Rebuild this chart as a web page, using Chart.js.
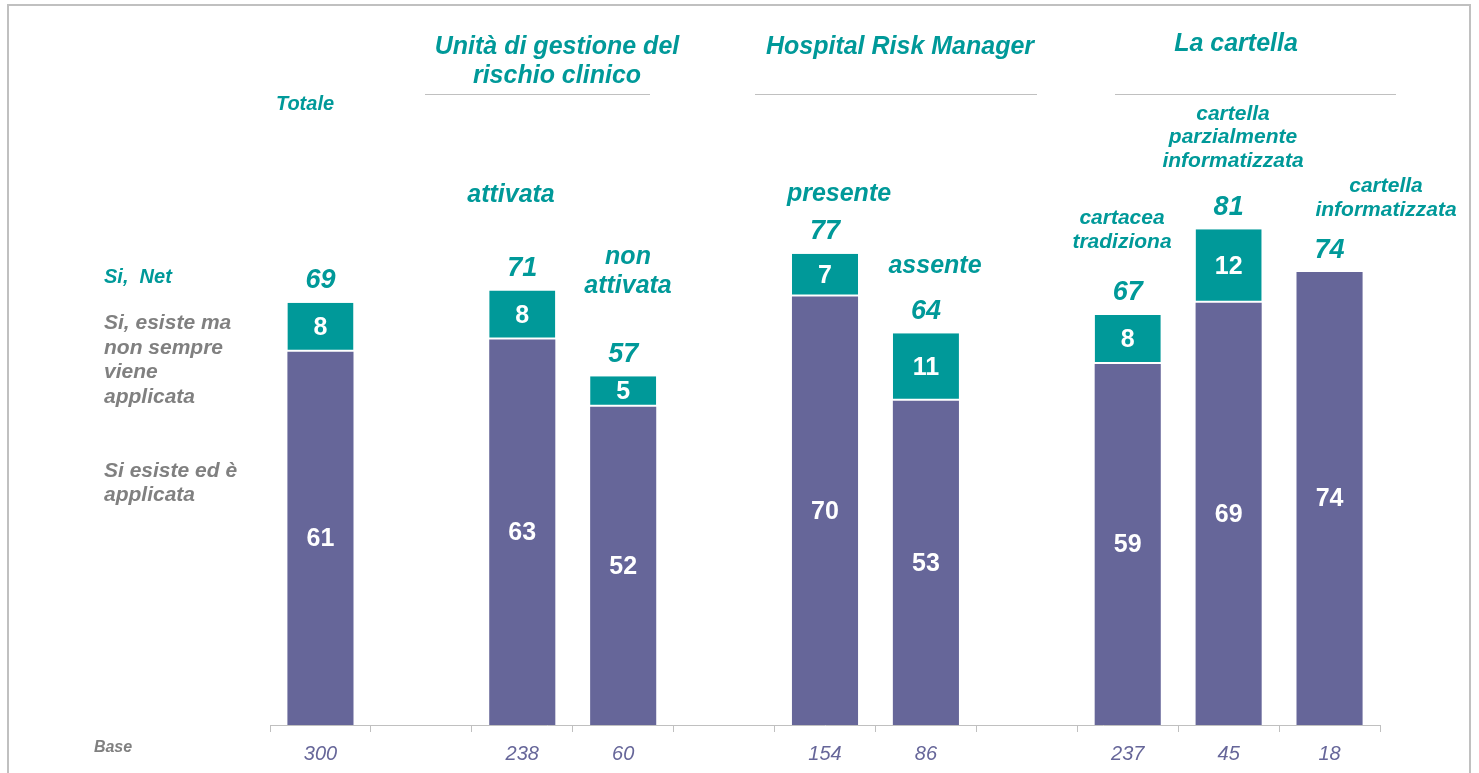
<!DOCTYPE html>
<html lang="it">
<head>
  <meta charset="UTF-8" />
  <title>Cartella clinica</title>
  <script src="https://cdn.jsdelivr.net/npm/chart.js@4.4.0/dist/chart.umd.min.js"></script>
  <style>
    html, body { margin: 0; padding: 0; background: #fff; }
    #wrap { width: 1479px; height: 773px; }
  </style>
</head>
<body>
  <div id="wrap"><canvas id="chart" width="1479" height="773"></canvas></div>
  <script>
    // dati
    const categories = ['Totale', '', 'attivata', 'non attivata', '', 'presente', 'assente', '', 'cartacea tradiziona', 'cartella parzialmente informatizzata', 'cartella informatizzata'];
    const applicata = [61, null, 63, 52, null, 70, 53, null, 59, 69, 74];
    const nonSempre = [8, null, 8, 5, null, 7, 11, null, 8, 12, 0];
    const netTotals = [69, null, 71, 57, null, 77, 64, null, 67, 81, 74];
    const bases = ['300', '', '238', '60', '', '154', '86', '', '237', '45', '18'];

    const TEAL = '#009999';
    const PURPLE = '#666699';
    const GRAY = '#808080';
    const LINE = '#c0c0c0';
    const FONT = '"Liberation Sans", Arial, sans-serif';

    // testi fissi: [testo, x, y, dimensione, colore, allineamento]
    const notes = [
      ['Unità di gestione del', 557, 47, 25, TEAL, 'center'],
      ['rischio clinico', 557, 76, 25, TEAL, 'center'],
      ['Hospital Risk Manager', 900, 47, 25, TEAL, 'center'],
      ['La cartella', 1236, 44, 25, TEAL, 'center'],
      ['Totale', 305, 104, 20, TEAL, 'center'],
      ['attivata', 511, 195, 25, TEAL, 'center'],
      ['non', 628, 257, 25, TEAL, 'center'],
      ['attivata', 628, 286, 25, TEAL, 'center'],
      ['presente', 839, 194, 25, TEAL, 'center'],
      ['assente', 935, 266, 25, TEAL, 'center'],
      ['cartacea', 1122, 218, 21, TEAL, 'center'],
      ['tradiziona', 1122, 242, 21, TEAL, 'center'],
      ['cartella', 1233, 114, 21, TEAL, 'center'],
      ['parzialmente', 1233, 137, 21, TEAL, 'center'],
      ['informatizzata', 1233, 161, 21, TEAL, 'center'],
      ['cartella', 1386, 186, 21, TEAL, 'center'],
      ['informatizzata', 1386, 210, 21, TEAL, 'center'],
      ['Si,  Net', 104, 277, 20, TEAL, 'left'],
      ['Si, esiste ma', 104, 323, 21, GRAY, 'left'],
      ['non sempre', 104, 348, 21, GRAY, 'left'],
      ['viene', 104, 372, 21, GRAY, 'left'],
      ['applicata', 104, 397, 21, GRAY, 'left'],
      ['Si esiste ed è', 104, 471, 21, GRAY, 'left'],
      ['applicata', 104, 495, 21, GRAY, 'left'],
      ['Base', 113, 748, 16, GRAY, 'center']
    ];
    const underlines = [[425, 650], [755, 1037], [1115, 1396]];

    const decor = {
      id: 'decor',
      afterDraw(chart) {
        const ctx = chart.ctx;
        ctx.save();
        // cornice
        ctx.strokeStyle = LINE;
        ctx.lineWidth = 2;
        ctx.beginPath();
        ctx.moveTo(8, 780); ctx.lineTo(8, 5); ctx.lineTo(1470, 5); ctx.lineTo(1470, 780);
        ctx.stroke();
        ctx.lineWidth = 1;
        underlines.forEach(([a, b]) => {
          ctx.beginPath(); ctx.moveTo(a, 94.5); ctx.lineTo(b, 94.5); ctx.stroke();
        });
        ctx.textBaseline = 'middle';
        notes.forEach(([t, x, y, s, c, al]) => {
          ctx.font = 'italic bold ' + s + 'px ' + FONT;
          ctx.fillStyle = c;
          ctx.textAlign = al;
          ctx.fillText(t, x, y);
        });

        // valori nei segmenti
        ctx.textAlign = 'center';
        ctx.font = 'bold 25px ' + FONT;
        ctx.fillStyle = '#fff';
        chart.data.datasets.forEach((ds, di) => {
          chart.getDatasetMeta(di).data.forEach((bar, i) => {
            const v = ds.data[i];
            if (!v) return;
            ctx.fillText(String(v), bar.x, (bar.y + bar.base) / 2 + 1);
          });
        });
        // totali netti
        ctx.font = 'italic bold 27px ' + FONT;
        ctx.fillStyle = TEAL;
        const y = chart.scales.y;
        netTotals.forEach((v, i) => {
          if (v == null) return;
          const bar = chart.getDatasetMeta(0).data[i];
          ctx.fillText(String(v), bar.x, y.getPixelForValue(v) - 22);
        });
        ctx.restore();
      }
    };

    new Chart(document.getElementById('chart'), {
      type: 'bar',
      data: {
        labels: categories,
        datasets: [
          {
            label: 'Si esiste ed è applicata',
            data: applicata,
            backgroundColor: PURPLE,
            borderWidth: 0
          },
          {
            label: 'Si, esiste ma non sempre viene applicata',
            data: nonSempre,
            backgroundColor: TEAL,
            borderColor: '#ffffff',
            borderWidth: { top: 0, left: 0, right: 0, bottom: 2 },
            borderSkipped: false
          }
        ]
      },
      plugins: [decor],
      options: {
        responsive: false,
        animation: false,
        events: [],
        categoryPercentage: 1,
        barPercentage: 0.655,
        layout: { padding: { left: 270, right: 99, top: 113, bottom: 0 } },
        plugins: { legend: { display: false }, tooltip: { enabled: false } },
        scales: {
          x: {
            stacked: true,
            grid: { display: true, drawOnChartArea: false, drawTicks: true, tickLength: 7, color: LINE },
            border: { color: LINE, width: 1 },
            ticks: {
              padding: 10,
              color: PURPLE,
              font: { family: FONT, size: 20, style: 'italic' },
              callback: (v, i) => bases[i]
            },
            afterFit: (s) => { s.height = 48; }
          },
          y: { stacked: true, display: false, min: 0, max: 100 }
        }
      }
    });
  </script>
</body>
</html>
